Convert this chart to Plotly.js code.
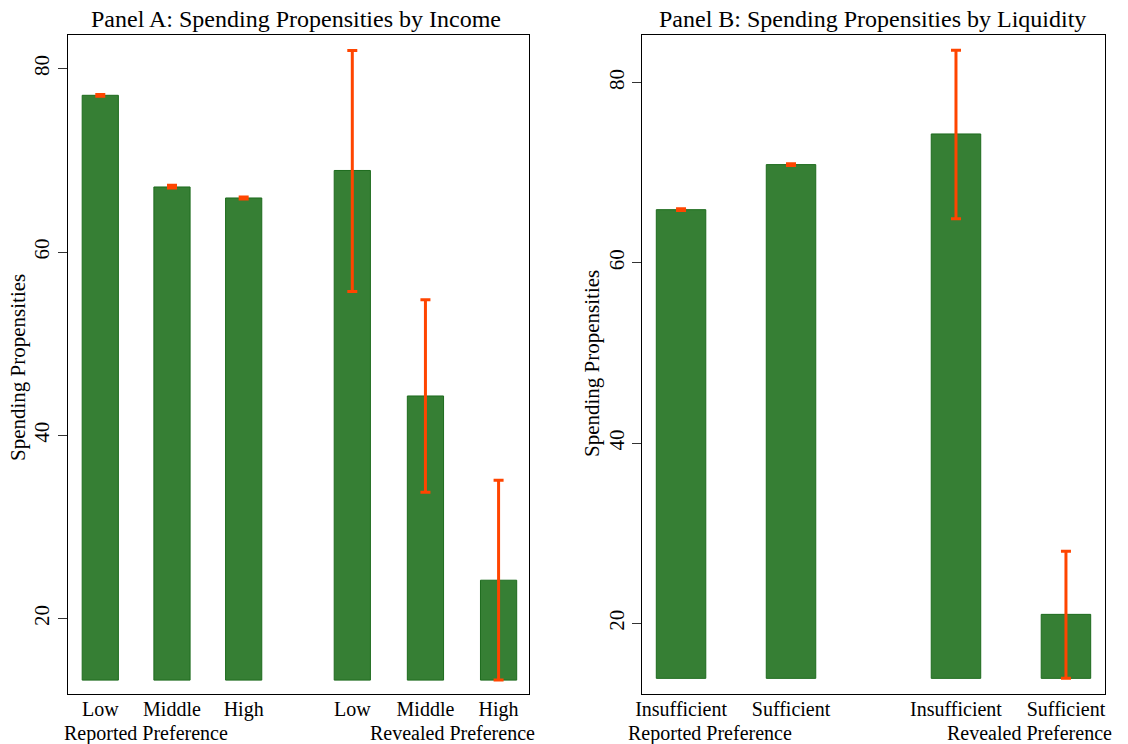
<!DOCTYPE html>
<html>
<head>
<meta charset="utf-8">
<script src="https://cdn.plot.ly/plotly-3.0.1.min.js"></script>
<style>
  html, body { margin: 0; padding: 0; background: #ffffff; }
  #chart { width: 1128px; height: 744px; }
</style>
</head>
<body>
<div id="chart"></div>
<script>
// ---------- Data ----------
// Panel A: by income
const incomeCategories = ["Low", "Middle", "High", "Low", "Middle", "High"];
const incomeValues     = [77.1, 67.1, 65.9, 68.9, 44.3, 24.2];
const incomeCILow      = [77.0, 67.0, 65.8, 55.7, 33.8, 13.3];
const incomeCIHigh     = [77.2, 67.3, 66.0, 82.0, 54.8, 35.1];
const incomeBase       = 13.3;

// Panel B: by liquidity
const liquidityCategories = ["Insufficient", "Sufficient", "Insufficient", "Sufficient"];
const liquidityValues     = [65.9, 70.9, 74.3, 21.0];
const liquidityCILow      = [65.8, 70.8, 64.9, 13.9];
const liquidityCIHigh     = [66.0, 71.0, 83.6, 28.0];
const liquidityBase       = 13.9;

const groupLabels = ["Reported Preference", "Revealed Preference"];
const yTicks = [20, 40, 60, 80];
const titleA = "Panel A: Spending Propensities by Income";
const titleB = "Panel B: Spending Propensities by Liquidity";
const yTitle = "Spending Propensities";

// ---------- Layout positions (not data) ----------
const posA = [0, 0.99, 1.98, 3.48, 4.49, 5.5];
const posB = [0, 1, 2.5, 3.5];

const FONT = "Liberation Serif, Times New Roman, serif";
const barFill = "#367f34";
const barEdge = "#1d6b1d";
const errColor = "#ff4500";

function barTrace(x, vals, base, xa, ya, width) {
  return {
    type: "bar", x: x, y: vals.map(v => v - base), base: base,
    width: width, xaxis: xa, yaxis: ya,
    marker: { color: barFill, line: { color: barEdge, width: 1 } },
    hoverinfo: "skip"
  };
}
function errTrace(x, vals, lo, hi, xa, ya) {
  return {
    type: "scatter", mode: "markers", x: x, y: vals, xaxis: xa, yaxis: ya,
    marker: { size: 1, opacity: 0 },
    error_y: {
      type: "data", symmetric: false,
      array: hi.map((h, i) => h - vals[i]),
      arrayminus: lo.map((l, i) => vals[i] - l),
      color: errColor, thickness: 3, width: 5
    },
    hoverinfo: "skip"
  };
}

const data = [
  barTrace(posA, incomeValues, incomeBase, "x", "y", 0.5),
  errTrace(posA, incomeValues, incomeCILow, incomeCIHigh, "x", "y"),
  barTrace(posB, liquidityValues, liquidityBase, "x2", "y2", 0.45),
  errTrace(posB, liquidityValues, liquidityCILow, liquidityCIHigh, "x2", "y2")
];

const yDom = [1 - 693.5 / 744, 1 - 35 / 744];
const axisCommonX = {
  showline: true, mirror: true, linecolor: "#000", linewidth: 1,
  showgrid: false, zeroline: false, ticks: "", fixedrange: true,
  ticklabelstandoff: -3,
  tickfont: { family: FONT, size: 20, color: "#000" }
};
const axisCommonY = {
  showline: true, mirror: true, linecolor: "#000", linewidth: 1,
  showgrid: false, zeroline: false, ticks: "outside", ticklen: 9, tickcolor: "#333",
  tickangle: -90, tickvals: yTicks, ticktext: yTicks.map(String), fixedrange: true,
  tickfont: { family: FONT, size: 21, color: "#000" }
};

function ann(text, xref, x, yPx, size, extra) {
  return Object.assign({
    text: text, xref: xref, yref: "paper", x: x, y: 1 - yPx / 744,
    xanchor: "center", yanchor: "middle", showarrow: false, borderpad: 0,
    font: { family: FONT, size: size, color: "#000" }
  }, extra || {});
}

const layout = {
  width: 1128, height: 744,
  margin: { l: 0, r: 0, t: 0, b: 0 },
  paper_bgcolor: "#fff", plot_bgcolor: "#fff",
  showlegend: false,
  xaxis: Object.assign({}, axisCommonX, {
    domain: [67.7 / 1128, 529 / 1128], range: [-0.45, 5.92],
    tickvals: posA, ticktext: incomeCategories, anchor: "y"
  }),
  yaxis: Object.assign({}, axisCommonY, {
    domain: yDom, range: [11.84, 83.68], anchor: "x"
  }),
  xaxis2: Object.assign({}, axisCommonX, {
    domain: [642 / 1128, 1105 / 1128], range: [-0.355, 3.855],
    tickvals: posB, ticktext: liquidityCategories, anchor: "y2"
  }),
  yaxis2: Object.assign({}, axisCommonY, {
    domain: yDom, range: [12.22, 85.28], anchor: "x2"
  }),
  annotations: [
    ann(titleA, "paper", 295.7 / 1128, 19, 24),
    ann(titleB, "paper", 872 / 1128, 19, 24),
    ann(yTitle, "paper", 18 / 1128, 368, 21, { textangle: -90 }),
    ann(yTitle, "paper", 592 / 1128, 364, 21, { textangle: -90 }),
    ann(groupLabels[0], "x", 0.63, 733, 20),
    ann(groupLabels[1], "x", 4.87, 733, 20),
    ann(groupLabels[0], "x2", 0.26, 733, 20),
    ann(groupLabels[1], "x2", 3.17, 733, 20)
  ]
};

Plotly.newPlot("chart", data, layout, { displayModeBar: false, staticPlot: true });
</script>
</body>
</html>
